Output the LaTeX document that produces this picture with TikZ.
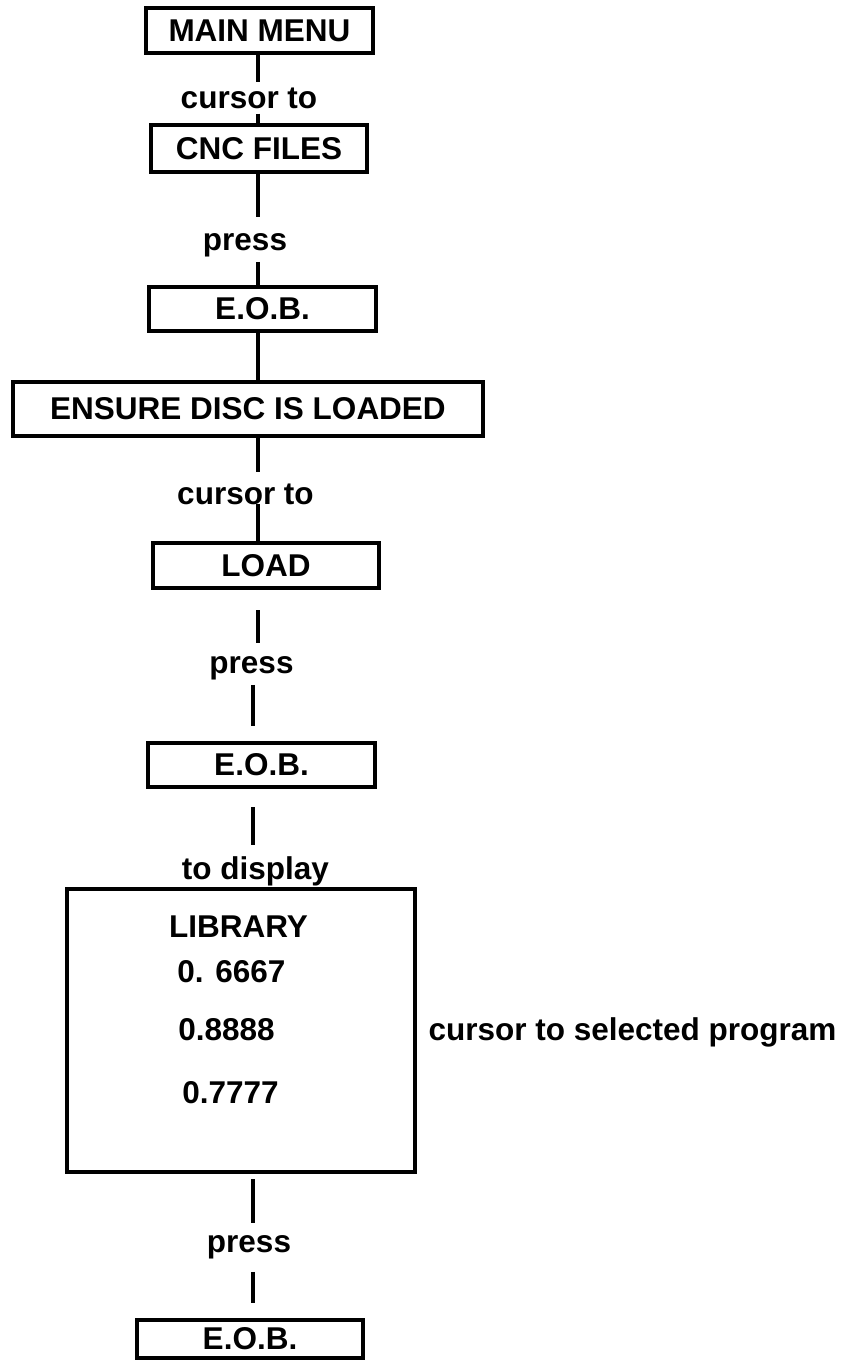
\documentclass[tikz,border=0pt]{standalone}
\usepackage{fontspec}
\setmainfont{Liberation Sans}
\usepackage{tikz}
\usetikzlibrary{positioning}

\begin{document}
\begin{tikzpicture}[x=0.5pt, y=-0.5pt,
    menubox/.style={draw, line width=2.3pt, inner sep=0pt, font=\fontsize{15.75pt}{19pt}\selectfont\bfseries},
    lbl/.style={inner sep=2.5pt, anchor=base, font=\fontsize{15.75pt}{19pt}\selectfont\bfseries},
    entry/.style={inner sep=0pt, anchor=base west, font=\fontsize{15.75pt}{19pt}\selectfont\bfseries},
    link/.style={line width=1.9pt}]
    \useasboundingbox (0,0) rectangle (848,1360);
    \coordinate (coltop) at (258,0);
    \coordinate (colbot) at (253,0);

    % boxes
    \node[menubox, minimum width=113.5pt, minimum height=22.5pt] (mainmenu) at (259.5,30.5) {MAIN MENU};
    \node[menubox, minimum width=108pt, minimum height=23.5pt] (cncfiles) at (259,148.5) {CNC FILES};
    \node[menubox, minimum width=113.5pt, minimum height=22pt] (eob1) at (262.5,309) {E.O.B.};
    \node[menubox, minimum width=235pt, minimum height=27pt] (ensure) at (248,409) {ENSURE DISC IS LOADED};
    \node[menubox, minimum width=113pt, minimum height=22.5pt] (load) at (266,565.5) {LOAD};
    \node[menubox, minimum width=113.5pt, minimum height=22pt] (eob2) at (261.5,765) {E.O.B.};
    \node[menubox, minimum width=174pt, minimum height=141.5pt] (libbox) at (241,1030.5) {};
    \node[menubox, minimum width=113pt, minimum height=19pt] (eob3) at (250,1339) {E.O.B.};

    % labels
    \node[lbl] (cur1) at (249,108) {cursor to};
    \node[lbl] (press1) at (245,250) {press};
    \node[lbl] (cur2) at (245.5,504) {cursor to};
    \node[lbl] (press2) at (251.5,673) {press};
    \node[lbl] (todisp) at (255.5,879) {to display};
    \node[lbl] (press3) at (249,1252) {press};
    \node[lbl] (selprog) at (632.5,1040) {cursor to selected program};

    % library listing
    \node[lbl, inner sep=0pt] (libtitle) at (238.5,937) {LIBRARY};
    \node[entry] (prog1) at (177,982) {0. 6667};
    \node[entry] (prog2) at (178,1040) {0.8888};
    \node[entry] (prog3) at (182,1103) {0.7777};

    % connectors
    \draw[link] (mainmenu.south -| coltop) -- (cur1.north -| coltop);
    \draw[link] (cur1.south -| coltop) -- (cncfiles.north -| coltop);
    \draw[link, shorten >=5.5pt] (cncfiles.south -| coltop) -- (press1.north -| coltop);
    \draw[link] (press1.south -| coltop) -- (eob1.north -| coltop);
    \draw[link] (eob1.south -| coltop) -- (ensure.north -| coltop);
    \draw[link, shorten >=3pt] (ensure.south -| coltop) -- (cur2.north -| coltop);
    \draw[link] (cur2.base -| coltop) -- (load.north -| coltop);
    \draw[link, shorten <=10pt, shorten >=4pt] (load.south -| coltop) -- (press2.north -| coltop);
    \draw[link, shorten >=7.5pt] (press2.south -| colbot) -- (eob2.north -| colbot);
    \draw[link, shorten <=9pt, shorten >=3pt] (eob2.south -| colbot) -- (todisp.north -| colbot);
    \draw[link, shorten <=2.5pt, shorten >=3.5pt] (libbox.south -| colbot) -- (press3.north -| colbot);
    \draw[link, shorten <=4pt, shorten >=7.5pt] (press3.south -| colbot) -- (eob3.north -| colbot);
\end{tikzpicture}
\end{document}
